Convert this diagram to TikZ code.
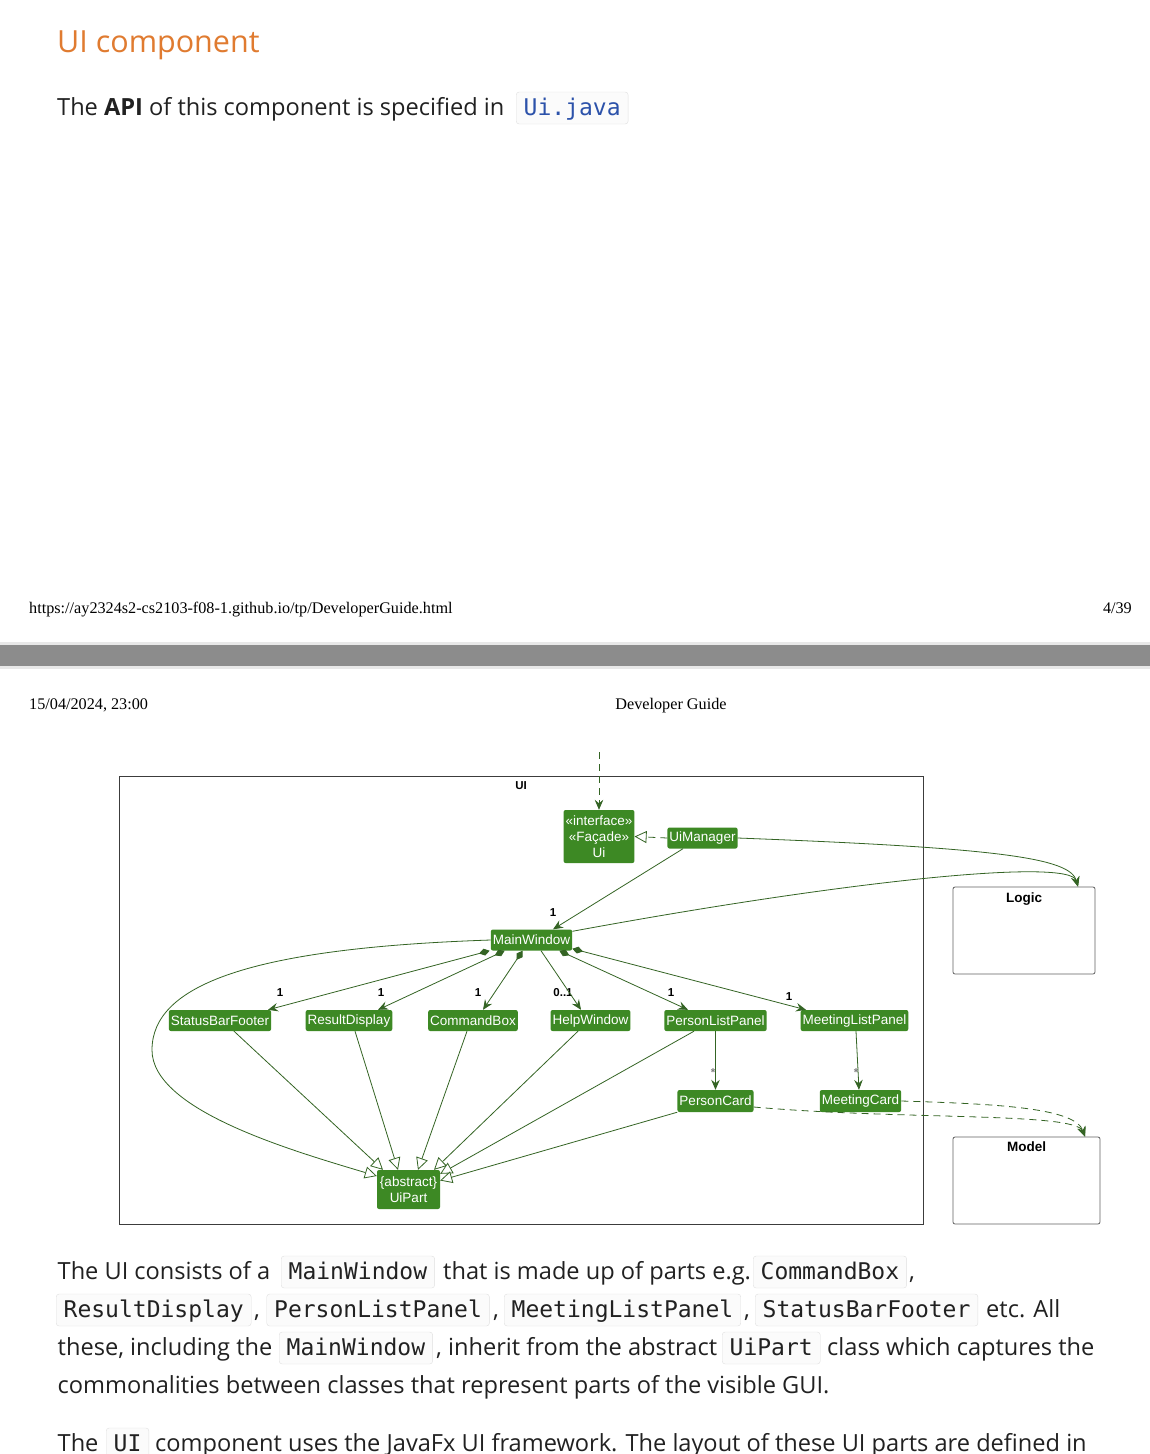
\documentclass[tikz,border=0pt]{standalone}
\usepackage{fontspec}
\setmainfont{Open Sans}
\setmonofont{DejaVu Sans Mono}
\newfontfamily\umlfont{Liberation Sans}
\newfontfamily\printfont{Liberation Serif}
\usepackage{xcolor}
\usepackage{tikz}
\usetikzlibrary{arrows.meta,positioning}
\definecolor{headorange}{RGB}{224,123,48}
\definecolor{linkblue}{RGB}{44,82,170}
\definecolor{textblack}{RGB}{33,33,33}
\definecolor{codeline}{RGB}{224,224,224}
\definecolor{codebg}{RGB}{251,251,251}
\definecolor{bargray}{RGB}{140,140,140}
\definecolor{barlight}{RGB}{232,232,232}
\definecolor{uigreen}{RGB}{61,137,36}
\definecolor{uiline}{RGB}{52,100,36}
\definecolor{pkgline}{RGB}{60,60,60}
\newcommand\bodysize{\fontsize{23.6}{28}\selectfont}
\newcommand\codesize{\fontsize{23}{28}\selectfont}

\begin{document}
\begin{tikzpicture}[
        x=1pt, y=-1pt,
        txt/.style={anchor=base west, inner sep=0pt, font=\bodysize, text=textblack},
        codebox/.style={anchor=base west, draw=codeline, fill=codebg, rounded corners=3pt,
                        inner xsep=7.5pt, inner ysep=6pt, text height=17pt, text depth=3pt,
                        font=\codesize\ttfamily, text=textblack},
        secttitle/.style={anchor=base west, inner sep=0pt, font=\fontsize{30.5}{36}\selectfont,
                          text=headorange},
        pagemark/.style={inner sep=0pt, font=\printfont\fontsize{16.2}{19}\selectfont},
        uicls/.style={fill=uigreen, text=white, rounded corners=2pt, inner xsep=2pt, inner ysep=0pt,
                      minimum height=21pt, font=\umlfont\fontsize{13.5}{16}\selectfont},
        pkg/.style={draw=pkgline, line width=0.8pt},
        pkgname/.style={inner sep=0pt, font=\umlfont\bfseries\fontsize{13.5}{16}\selectfont},
        mult/.style={inner sep=0pt, font=\umlfont\bfseries\fontsize{11.5}{13}\selectfont},
        assoc/.style={uiline, line width=0.8pt, -{Stealth[length=10pt, width=8.5pt, inset=3.5pt]}},
        comp/.style={uiline, line width=0.8pt,
                     {Diamond[length=11pt, width=7pt]}-{Stealth[length=10pt, width=8.5pt, inset=3.5pt]}},
        inherit/.style={uiline, line width=0.8pt, -{Triangle[length=12pt, width=12pt, fill=white]}},
        realize/.style={inherit, dash pattern=on 7pt off 5pt},
        dep/.style={assoc, dash pattern=on 7pt off 5pt}
    ]
        \useasboundingbox (0,0) rectangle (1150,1454);
        \fill[white] (0,0) rectangle (1150,1454);

        \node[secttitle] (title) at (57,52) {UI component};
        \node[txt] (apiline) at (57,115) {The \textbf{API} of this component is specified in};
        \node[codebox, text=linkblue] (apifile) at (516,115) {Ui.java};

        \node[pagemark, anchor=base west] (url) at (29,613) {https://ay2324s2-cs2103-f08-1.github.io/tp/DeveloperGuide.html};
        \node[pagemark, anchor=base east] (pageno) at (1132,613) {4/39};
        \fill[barlight] (0,642) rectangle (1150,669);
        \fill[bargray] (0,645) rectangle (1150,666);
        \node[pagemark, anchor=base west] (stamp) at (29,709) {15/04/2024, 23:00};
        \node[pagemark, anchor=base] (doctitle) at (671,709) {Developer Guide};

        \node[pkg, minimum width=804pt, minimum height=448pt] (uipkg) at (521,1000) {};
        \node[pkgname, anchor=north, font=\umlfont\bfseries\fontsize{11.5}{14}\selectfont] (uititle) at ([yshift=-6pt]uipkg.north) {UI};
        \node[pkg, draw=pkgline!80, rounded corners=2pt, minimum width=142pt, minimum height=87pt] (logic) at (1024,930.5) {};
        \node[pkgname, anchor=north] (logictitle) at ([yshift=-6pt]logic.north) {Logic};
        \node[pkg, draw=pkgline!80, rounded corners=2pt, minimum width=147pt, minimum height=87pt] (model) at (1026.5,1180.5) {};
        \node[pkgname, anchor=north] (modeltitle) at ([yshift=-5pt]model.north) {Model};

        \node[uicls, align=center, minimum width=70pt, minimum height=53pt] (ui) at (599,836.5) {«interface»\\«Façade»\\Ui};
        \node[uicls] (uimgr) at (702.5,838) {UiManager};
        \node[uicls] (mainwin) at (531.5,940) {MainWindow};
        \node[uicls] (sbf) at (220,1020.5) {StatusBarFooter};
        \node[uicls] (rd) at (349,1020.5) {ResultDisplay};
        \node[uicls] (cb) at (473,1020.5) {CommandBox};
        \node[uicls] (hw) at (590.5,1020.5) {HelpWindow};
        \node[uicls] (plp) at (715.5,1020.5) {PersonListPanel};
        \node[uicls] (mlp) at (854.5,1020.5) {MeetingListPanel};
        \node[uicls, minimum height=22pt] (pc) at (715.5,1101) {PersonCard};
        \node[uicls, minimum height=22pt] (mc) at (860.5,1101) {MeetingCard};
        \node[uicls, align=center, minimum width=63pt, minimum height=39pt] (uipart) at (408.5,1189.5) {\{abstract\}\\UiPart};
        \coordinate (uientry) at (599,752);

        \node[mult] (m-uimgr) at (553,913) {1};
        \node[mult] (m-sbf) at (280,993) {1};
        \node[mult] (m-rd) at (381,993) {1};
        \node[mult] (m-cb) at (478,993) {1};
        \node[mult] (m-hw) at (563,993) {0..1};
        \node[mult] (m-plp) at (671,993) {1};
        \node[mult] (m-mlp) at (789,997) {1};
        \node[mult, text=gray] (m-pc) at (713,1073) {*};
        \node[mult, text=gray] (m-mc) at (856,1073) {*};

        \draw[dep] (uientry) -- (ui.north);
        \draw[realize] (uimgr.west) -- (ui.east);
        \draw[assoc] ([xshift=-19.5pt]uimgr.south) -- ([xshift=21.5pt]mainwin.north);
        \draw[assoc] (uimgr.east) .. controls (1000,848) and (1070,858) .. ([xshift=54pt]logic.north);
        \draw[assoc] ([yshift=-2pt]mainwin.north east) .. controls (850,880) and (1070,858) .. ([xshift=54pt]logic.north);
        \draw[comp] ([xshift=-1pt]mainwin.south west) -- ([xshift=48pt]sbf.north);
        \draw[comp] ([xshift=14pt]mainwin.south west) -- ([xshift=29pt]rd.north);
        \draw[comp] ([xshift=32pt]mainwin.south west) -- ([xshift=10pt]cb.north);
        \draw[assoc] ([xshift=9.5pt]mainwin.south) -- ([xshift=-9.5pt]hw.north);
        \draw[comp] ([xshift=-13pt]mainwin.south east) -- ([xshift=-27.5pt]plp.north);
        \draw[comp] ([yshift=2pt]mainwin.south east) -- ([xshift=-48.5pt]mlp.north);
        \draw[assoc] (plp.south) -- (pc.north);
        \draw[assoc] ([xshift=1.5pt]mlp.south) -- ([xshift=-1.5pt]mc.north);
        \draw[inherit] (mainwin.west) .. controls (250,948) and (152,985) .. (152,1050)
            .. controls (152,1110) and (290,1150) .. ([yshift=13.5pt]uipart.west);
        \draw[inherit] ([xshift=14pt]sbf.south) -- ([xshift=-25.5pt]uipart.north);
        \draw[inherit] ([xshift=6pt]rd.south) -- ([xshift=-10.5pt]uipart.north);
        \draw[inherit] ([xshift=-6pt]cb.south) -- ([xshift=9.5pt]uipart.north);
        \draw[inherit] ([xshift=-12.5pt]hw.south) -- ([xshift=25.5pt]uipart.north);
        \draw[inherit] ([xshift=-21.5pt]plp.south) -- ([yshift=-4pt]uipart.north east);
        \draw[inherit] (pc.south west) -- ([yshift=9pt]uipart.east);
        \draw[dep] ([yshift=-6pt]pc.east) .. controls (900,1120) and (1075,1112) .. ([xshift=58.5pt]model.north);
        \draw[dep] (mc.east) .. controls (1000,1104) and (1075,1108) .. ([xshift=58.5pt]model.north);

        \node[txt] (l1a) at (57.5,1279) {The UI consists of a};
        \node[codebox] (l1b) at (281,1279) {MainWindow};
        \node[txt] (l1c) at (443,1279) {that is made up of parts e.g.};
        \node[codebox] (l1d) at (753,1279) {CommandBox};
        \node[txt] (l1e) at (909,1279) {,};
        \node[codebox] (l2a) at (56,1317) {ResultDisplay};
        \node[txt] (l2b) at (254,1317) {,};
        \node[codebox] (l2c) at (266.5,1317) {PersonListPanel};
        \node[txt] (l2d) at (493,1317) {,};
        \node[codebox] (l2e) at (504,1317) {MeetingListPanel};
        \node[txt] (l2f) at (744,1317) {,};
        \node[codebox] (l2g) at (755,1317) {StatusBarFooter};
        \node[txt] (l2h) at (986,1317) {etc. All};
        \node[txt] (l3a) at (57.5,1355) {these, including the};
        \node[codebox] (l3b) at (279,1355) {MainWindow};
        \node[txt] (l3c) at (436,1355) {, inherit from the abstract};
        \node[codebox] (l3d) at (722,1355) {UiPart};
        \node[txt] (l3e) at (827,1355) {class which captures the};
        \node[txt] (l4a) at (57.5,1393) {commonalities between classes that represent parts of the visible GUI.};
        \node[txt] (l5a) at (57.5,1451) {The};
        \node[codebox] (l5b) at (106,1451) {UI};
        \node[txt] (l5c) at (155,1451) {component uses the JavaFx UI framework. The layout of these UI parts are defined in};
    \end{tikzpicture}
\end{document}
